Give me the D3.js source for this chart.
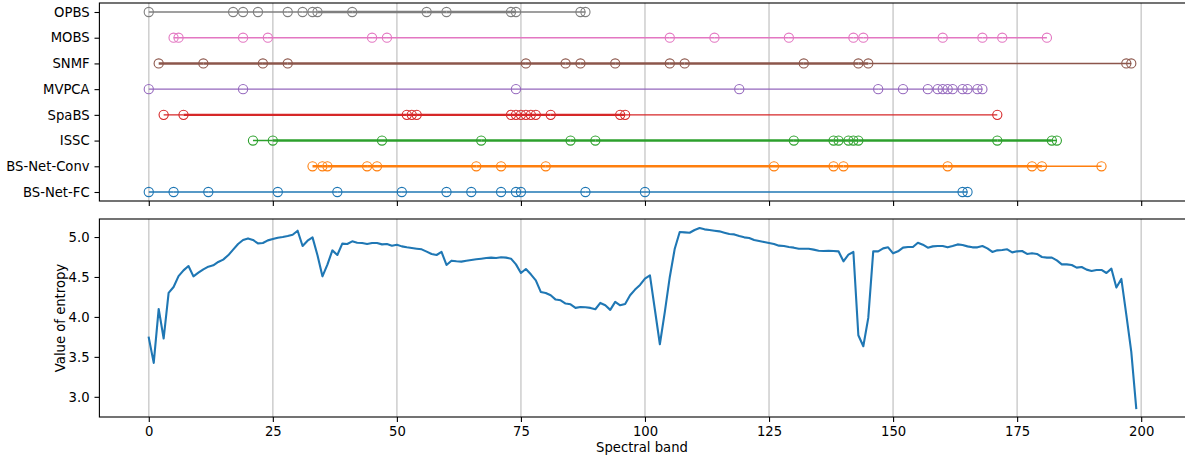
<!DOCTYPE html>
<html><head><meta charset="utf-8">
<script src="https://cdn.jsdelivr.net/npm/d3@7"></script>
<style>
body{margin:0;background:#fff;}
svg{display:block;font-family:"DejaVu Sans",sans-serif;}
</style></head>
<body><svg id="chart" width="1185" height="460"></svg>
<script>
// ---------- data ----------
const methods = ["BS-Net-FC","BS-Net-Conv","ISSC","SpaBS","MVPCA","SNMF","MOBS","OPBS"];
const colors = ["#1f77b4","#ff7f0e","#2ca02c","#d62728","#9467bd","#8c564b","#e377c2","#7f7f7f"];
// selected bands, in selection order
const bandsFC    = [0,5,12,26,38,51,60,65,71,74,75,88,100,164,165];
const bandsConv  = [180,33,35,36,44,46,66,71,80,126,138,140,161,178,192];
const bandsISSC  = [21,182,25,47,67,85,90,130,138,139,141,142,143,171,183];
const bandsSpaBS = [3,96,7,52,53,54,73,74,75,76,77,78,81,95,171];
const bandsMVPCA = [0,19,74,119,147,152,157,159,160,161,162,164,165,167,168];
const bandsSNMF  = [145,2,11,23,28,76,84,87,94,105,108,132,143,197,198];
const bandsMOBS  = [5,6,19,24,45,48,105,114,129,142,144,160,168,172,181];
const bandsOPBS  = [0,17,19,22,28,31,33,56,60,73,74,34,41,87,88];
const selected = [bandsFC,bandsConv,bandsISSC,bandsSpaBS,bandsMVPCA,bandsSNMF,bandsMOBS,bandsOPBS];

const bands = d3.range(200);
const entropy = [
3.74,3.425,4.10,3.73,4.30,4.375,4.51,4.583,4.637,4.508,
4.554,4.596,4.629,4.646,4.688,4.717,4.771,4.842,4.913,4.963,
4.983,4.963,4.921,4.925,4.958,4.975,4.992,5.0,5.013,5.029,
5.079,4.888,4.954,4.996,4.771,4.508,4.654,4.833,4.775,4.917,
4.913,4.946,4.929,4.925,4.913,4.925,4.925,4.908,4.913,4.892,
4.904,4.883,4.871,4.862,4.854,4.846,4.817,4.787,4.775,4.813,
4.65,4.704,4.696,4.692,4.704,4.713,4.721,4.729,4.738,4.742,
4.738,4.746,4.742,4.729,4.658,4.55,4.6,4.533,4.458,4.313,
4.3,4.271,4.217,4.208,4.167,4.158,4.113,4.125,4.121,4.113,
4.096,4.175,4.146,4.088,4.188,4.146,4.163,4.271,4.342,4.4,
4.479,4.521,4.09,3.658,4.063,4.5,4.854,5.063,5.058,5.054,
5.088,5.113,5.096,5.088,5.079,5.071,5.054,5.038,5.033,5.013,
4.996,4.988,4.963,4.95,4.938,4.925,4.913,4.892,4.888,4.875,
4.867,4.854,4.854,4.854,4.842,4.829,4.825,4.829,4.825,4.821,
4.696,4.779,4.813,3.771,3.633,3.988,4.821,4.821,4.858,4.871,
4.796,4.821,4.867,4.875,4.875,4.929,4.904,4.867,4.883,4.888,
4.888,4.871,4.888,4.908,4.9,4.883,4.871,4.871,4.888,4.858,
4.813,4.833,4.838,4.846,4.808,4.821,4.825,4.788,4.796,4.788,
4.75,4.742,4.742,4.708,4.658,4.658,4.65,4.617,4.625,4.592,
4.575,4.588,4.588,4.55,4.604,4.367,4.475,4.03,3.566,2.86];
const xTicks = [0,25,50,75,100,125,150,175,200];
const yTicks = [3.0,3.5,4.0,4.5,5.0];
const xLabel = "Spectral band";
const yLabel = "Value of entropy";

// ---------- layout ----------
const svg = d3.select("#chart");
const L = 99.4, R = 1185.6;
const top1 = 3, bot1 = 201, top2 = 219, bot2 = 417;
const FS = 13.2;
const tickLen = 4.9, pad = 4.9;

const x = d3.scaleLinear().domain([-9.95, 208.95]).range([L, R]);
const y1 = d3.scaleLinear().domain([-0.35, methods.length - 1 + 0.35]).range([bot1, top1]);
const [emin, emax] = d3.extent(entropy);
const em = (emax - emin) * 0.05;
const y2 = d3.scaleLinear().domain([emin - em, emax + em]).range([bot2, top2]);

function grid(g, y0, y1p){
  g.selectAll("line.grid").data(xTicks).join("line")
    .attr("x1", d => x(d)).attr("x2", d => x(d))
    .attr("y1", y0).attr("y2", y1p)
    .attr("stroke", "#b0b0b0").attr("stroke-opacity", 0.6).attr("stroke-width", 1.6);
}

// ---------- top panel ----------
const gTop = svg.append("g");
const defs = svg.append("defs");
defs.append("clipPath").attr("id","c1").append("rect").attr("x",L).attr("y",top1).attr("width",R-L).attr("height",bot1-top1);
defs.append("clipPath").attr("id","c2").append("rect").attr("x",L).attr("y",top2).attr("width",R-L).attr("height",bot2-top2);
grid(gTop, top1, bot1);
const plotTop = gTop.append("g").attr("clip-path","url(#c1)");

selected.forEach((order, i) => {
  const sorted = order.slice().sort((a,b)=>a-b);
  const segs = d3.pairs(order).map(([a,b]) => [Math.min(a,b), Math.max(a,b)]);
  const pieces = d3.pairs(sorted).map(([a,b]) => {
    const cov = segs.filter(s => s[0] <= a && s[1] >= b).length;
    return {a, b, cov};
  });
  const yy = y1(i);
  plotTop.append("g").selectAll("line").data(pieces).join("line")
    .attr("x1", d => x(d.a)).attr("x2", d => x(d.b))
    .attr("y1", yy).attr("y2", yy)
    .attr("stroke", colors[i])
    .attr("stroke-width", d => d.cov >= 2 ? 2.4 : 1.4);
  plotTop.append("g").selectAll("circle").data(sorted).join("circle")
    .attr("cx", d => x(d)).attr("cy", yy).attr("r", 4.6)
    .attr("fill", "none").attr("stroke", colors[i]).attr("stroke-width", 1.1);
});

// axes top
const axTopY = d3.axisLeft(y1).tickValues(d3.range(methods.length)).tickFormat(i => methods[i]).tickSize(tickLen).tickPadding(pad);
const axTopX = d3.axisBottom(x).tickValues(xTicks).tickFormat("").tickSize(tickLen);
const gy1 = gTop.append("g").attr("transform", `translate(${L},0)`).call(axTopY);
const gx1 = gTop.append("g").attr("transform", `translate(0,${bot1})`).call(axTopX);
gTop.append("rect").attr("x",L).attr("y",top1).attr("width",R-L).attr("height",bot1-top1)
  .attr("fill","none").attr("stroke","#000").attr("stroke-width",1.1);

// ---------- bottom panel ----------
const gBot = svg.append("g");
grid(gBot, top2, bot2);
const line = d3.line().x((d,i) => x(bands[i])).y(d => y2(d));
gBot.append("g").attr("clip-path","url(#c2)").append("path").datum(entropy)
  .attr("d", line).attr("fill","none").attr("stroke","#1f77b4")
  .attr("stroke-width", 2.1).attr("stroke-linejoin","round").attr("stroke-linecap","square");

const axBotX = d3.axisBottom(x).tickValues(xTicks).tickFormat(d3.format("d")).tickSize(tickLen).tickPadding(pad);
const axBotY = d3.axisLeft(y2).tickValues(yTicks).tickFormat(d3.format(".1f")).tickSize(tickLen).tickPadding(pad);
const gx2 = gBot.append("g").attr("transform", `translate(0,${bot2})`).call(axBotX);
const gy2 = gBot.append("g").attr("transform", `translate(${L},0)`).call(axBotY);
gBot.append("rect").attr("x",L).attr("y",top2).attr("width",R-L).attr("height",bot2-top2)
  .attr("fill","none").attr("stroke","#000").attr("stroke-width",1.1);

[gy1,gx1,gx2,gy2].forEach(g => {
  g.select(".domain").remove();
  g.selectAll(".tick line").attr("stroke","#000").attr("stroke-width",1.1);
  g.selectAll(".tick text").attr("font-size", FS).attr("fill","#000")
   .attr("font-family",'"DejaVu Sans",sans-serif');
});
svg.append("text").attr("x", (L + x(208.95)) / 2 - 0.5).attr("y", 452)
  .attr("text-anchor","middle").attr("font-size",FS).text(xLabel);
svg.append("text").attr("transform", `translate(64.5,${(top2+bot2)/2}) rotate(-90)`)
  .attr("text-anchor","middle").attr("font-size",FS).text(yLabel);
</script>
</body></html>
